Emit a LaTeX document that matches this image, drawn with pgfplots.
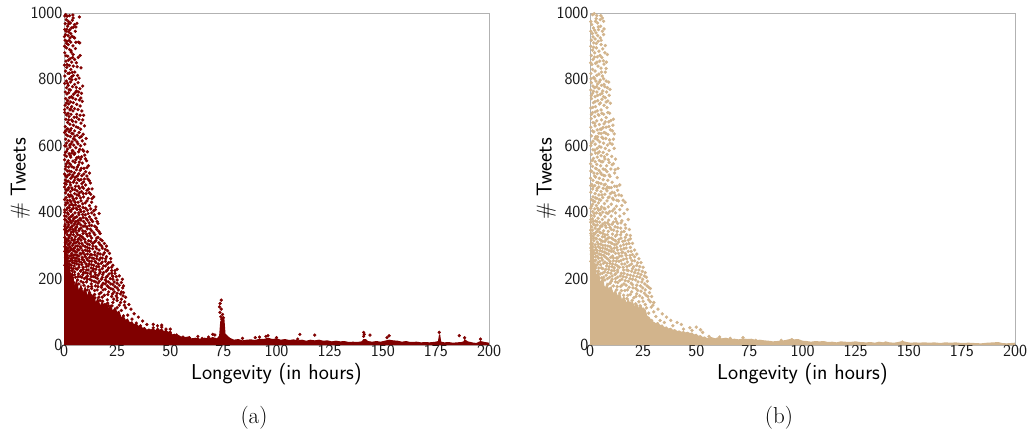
\documentclass[border=0pt]{standalone}
\usepackage{fontspec}
\usepackage{pgfplots}
\pgfplotsset{compat=1.18}
\definecolor{dred}{RGB}{128,0,0}
\definecolor{tanc}{RGB}{210,180,140}
\definecolor{axg}{RGB}{178,178,178}
\pgfplotsset{panel/.style={
  width=425pt,height=332pt,scale only axis,
  xmin=0,xmax=200,ymin=0,ymax=1000,
  xtick={0,25,50,75,100,125,150,175,200},
  ytick={0,200,400,600,800,1000},
  major tick length=0pt,
  axis line style={axg,line width=0.9pt},
  /pgf/number format/assume math mode=true,
  /pgf/number format/1000 sep={},
  tick label style={font=\sffamily\fontsize{17}{17}\selectfont,text=black!90},
  xticklabel style={yshift=3pt},
  yticklabel style={xshift=2pt},
  every axis x label/.style={at={(axis description cs:0.5,-0.088)},anchor=center},
  every axis y label/.style={at={(axis description cs:-0.103,0.5)},rotate=90,anchor=center},
  label style={font=\sffamily\fontsize{21.5}{22}\selectfont},
  xlabel={Longevity (in hours)},ylabel={\# Tweets},
  clip=true,
}}
\begin{document}
\begin{tikzpicture}[x=1pt,y=1pt]
\path[use as bounding box] (0,0) rectangle (1035,432);
\begin{axis}[panel,at={(64pt,87pt)},anchor=south west]
\addplot[fill=dred,draw=none] coordinates {(0,420)(0.6,330)(1,290)(1.6,300)(2,235)(2.6,250)(3,205)(4,225)(5,180)(6,200)(7,165)(8,185)(9,160)(10,180)(11,150)(12,170)(13,145)(14,155)(15,130)(16,145)(17,120)(18,135)(19,118)(20,128)(21,112)(22,122)(23,104)(24,115)(25,100)(26,104)(27,84)(28,90)(29,76)(30,80)(31,68)(32,72)(33,62)(34,66)(35,58)(36,60)(37,52)(38,54)(39,46)(40,50)(41,44)(42,52)(43,44)(44,54)(45,46)(46,50)(47,42)(48,46)(49,40)(50,42)(51,32)(52,34)(53,28)(54,30)(55,26)(57,24)(59,26)(60,20)(62,22)(64,18)(66,22)(68,20)(70,24)(72,20)(73,28)(73.5,70)(74.5,85)(75.5,78)(76,34)(77,28)(78,22)(80,16)(82,18)(84,14)(86,16)(88,17)(90,15)(92,19)(94,18)(96,22)(98,18)(100,20)(102,16)(104,18)(106,15)(108,17)(110,14)(112,16)(114,13)(116,16)(118,14)(120,16)(122,13)(124,14)(126,11)(128,13)(130,11)(132,12)(134,9)(136,10)(138,9)(140,11)(141,18)(142,18)(143,12)(145,10)(147,12)(149,10)(151,13)(153,16)(155,14)(157,13)(159,10)(161,12)(163,9)(166,10)(168,8)(170,9)(172,8)(175,10)(176,12)(176.5,32)(177,32)(177.5,10)(179,8)(181,9)(183,7)(185,8)(187,9)(188,11)(188.5,18)(190,11)(192,8)(194,6)(196,12)(198,9)(200,7)(200,0)(0,0)} \closedcycle;
\addplot[only marks,mark=*,mark size=1.45pt,dred,mark options={draw=none,fill=dred}] coordinates {
(0.8,995)(1.5,990)(2.6,992)(4.2,994)(4.3,985)(7.2,988)(1.1,980)(2,975)(3,970)(0.6,968)(4.9,965)(5.6,958)(1.7,960)(3.5,955)(0.4,950)(1,945)(2.2,943)(3.2,938)(5.3,945)(0.7,935)(1.9,932)(3.8,930)(4.6,927)(5,925)(2.8,925)(0.5,918)(1.4,915)(3.2,912)(5.6,912)(6.8,912)(7.4,910)(2,905)(0.3,900)
(1.2,895)(2.6,890)(3.4,882)(0.4,880)(4.3,875)(7.6,872)(1.8,870)(2.9,862)(5,860)(0.9,855)(3.6,852)(5.8,850)(1.5,845)(2.5,842)(4.4,840)(6.2,838)(8,835)(3.2,830)(0.7,825)(5.1,822)(1.9,818)(0.4,810)(3.6,808)(2.6,802)(5.5,800)(4.4,812)(1.1,795)(3.1,792)(6.6,790)(0.3,788)(5,785)(2,782)(8.8,780)(4,778)(1.2,775)(7.5,772)(3,768)(5.8,765)(0.6,762)(2.2,760)(1.4,756)(4.5,755)(8.2,758)(6.5,752)(3.5,748)(2.6,745)(0.8,742)(5.5,740)(1.8,736)(7.2,738)(8.6,734)(3.1,732)(4.4,730)(2.2,726)(6,725)(0.5,722)(3.6,718)(7.6,720)(1.6,715)(5,712)(2.8,708)(4.2,705)(8.4,705)(0.4,700)(1.9,698)(3.3,695)(6,695)(9.2,692)(2.4,688)(4.8,686)(0.9,680)(7,680)(3.6,678)(5.6,672)(1.7,670)(8,668)(2.8,665)(4.4,662)(9.6,660)(0.6,658)(6.6,655)(3.4,652)(1.4,650)(7.8,650)(5,645)(2.4,642)(0.3,640)(4.2,636)(9,635)(6.2,632)(1.8,630)(3,628)(7.4,625)(10.4,622)(0.8,620)(5.2,618)(2.2,615)(8.6,615)(3.8,612)(1.2,608)(6.6,606)(9.8,605)(4.6,602)(0.4,600)(7.8,600)
(2.8,596)(5.6,594)(1.6,590)(3.9,586)(8.8,588)(6.9,582)(0.7,580)(11,582)(2.4,576)(4.8,574)(9.8,572)(1.2,568)(3.2,566)(6,564)(7.8,560)(0.3,558)(2,555)(4.2,554)(10.6,555)(5.2,550)(8.6,548)(1,545)(3,544)(6.8,542)(11.5,540)(2.2,536)(4.6,534)(9.4,532)(0.6,530)(5.8,528)(7.6,526)(1.6,524)(3.4,522)(10.2,522)(12,518)(0.3,515)(2.6,514)(4.2,512)(6.4,510)(8.4,510)(1.2,506)(5.2,504)(3.2,502)(9.6,500)(11.2,500)(0.6,497)(7.2,496)(2,494)(4.4,490)(6,488)(12.4,488)(8.4,486)(1,484)(3,482)(10.2,482)(5.4,478)(0.3,476)(2.2,474)(7.4,472)(9.2,472)(11.6,470)(13.2,470)(4,468)(1.4,466)(6.2,464)(3,462)(8.2,462)(0.7,458)(5,456)(10.4,456)(12.6,454)(2,452)(7,450)(3.8,448)(9.2,446)(14,446)(1,444)(5.8,442)(11.4,442)(0.3,438)(2.8,436)(4.6,436)(8,434)(6.6,430)(13,430)(1.8,428)(10,428)(3.6,424)(0.7,422)(5.4,422)(12,420)(7.4,418)(15,416)(2.4,414)(9,414)(4.4,412)(1.2,408)(6.2,408)(11,406)(14,404)(3.2,402)(8,402)(0.4,400)(5.2,398)
(13,398)(16.5,396)(2,394)(7,392)(10,392)(1,388)(3.8,388)(6,386)(12,386)(9,384)(15,382)(4.6,380)(0.4,378)(2.6,378)(8,376)(11,376)(5.6,372)(13.5,372)(1.4,370)(3.4,368)(7,368)(10,366)(16,366)(0.6,362)(2.2,362)(4.8,362)(12,360)(9,358)(14.5,358)(6,356)(3.2,354)(1.2,352)(8,352)(11,350)(0.3,348)(4.2,348)(5.4,346)(15.5,348)(2,344)(7,344)(13,344)(10,342)(3.4,340)(0.8,338)(6,338)(17,336)(9,336)(12,336)(1.6,332)(4.4,332)(14.5,332)(7.6,330)(2.6,328)(11,328)(5.4,326)(0.4,324)(16,324)(3.6,322)(9,322)(13,322)(1.2,318)(6.6,318)(8,316)(18,314)(2.2,314)(4.6,314)(11.6,314)(15,314)(10,310)(0.6,308)(3,308)(5.6,308)(7.2,306)(13.5,306)(1.8,302)(17,302)(12,302)(4,300)(9,300)(6.4,298)(20,298)(2.8,296)(15,296)(0.9,294)(11,294)(5,292)(8,292)(18,292)(13.5,290)(3.4,288)(1.6,286)(7,286)(10,286)(16.5,286)(20.5,284)(4.4,284)(12,282)(2.2,280)(6,280)(9,278)(14.5,280)(19,278)(0.8,276)(3.6,276)(17,274)(8,274)(11,274)(5.2,272)(13,272)(1.6,270)(7,268)(15.5,268)(2.8,268)(10,266)(20,266)(4.4,264)(12,264)(18,262)(6,262)(22,260)(14,260)(3.4,260)(8.6,258)(1.2,258)(16.5,256)(11,256)(5.2,254)(19.5,252)(2.4,252)(7.2,252)(13,252)(9.6,250)(21,248)(4,248)(15,248)(0.9,246)(17.5,246)(11.8,244)(6,244)(2.8,242)(8.4,242)(23,240)(14,240)(19.5,238)(4.8,238)(1.5,238)(10.5,236)(16.4,236)(12.8,232)(7,234)(3.4,232)(21,232)(18,230)(5.6,230)(9,228)(15,228)(25,228)(1.8,226)(11.4,226)(13.6,224)(22.5,224)(7.8,222)(3.8,224)(19.8,222)(17,220)(5,220)(10,218)(24,216)(14.6,218)(2.2,218)(12.4,214)(6.8,214)(21.2,214)(8.8,212)(18.2,212)(16,210)(4,210)(26,208)(23,206)(11,208)(13.8,206)(2.8,206)(7.6,206)(19.8,204)(5.4,204)(9.6,200)(15.8,200)(21.8,200)(17.6,198)(12.2,198)(25,196)(3.4,198)(6.4,196)(14.2,192)(20,192)(8,192)(23.6,190)(27,188)(10.6,190)(18.4,186)(4.6,188)(16,186)(22,184)(12.8,184)(7,184)(26,180)(20.4,178)(9.4,180)(14.8,178)(24,176)(5.4,176)(11.4,176)(17.6,174)(27.6,172)(22,170)(8,170)(19.4,168)(13,170)(25.6,166)(15.6,166)(10,164)(6.4,164)(23.6,160)(21,160)(28,158)(17.4,158)(12,158)(26.6,154)(14.4,152)(19,150)(8.6,150)(24.6,148)(22.4,146)(29,144)(16.4,144)(11.2,144)(27,138)(20.4,136)(25,134)(13.4,136)(18.2,132)(28.6,130)(23,128)(30.5,122)(26,120)(21,118)(16,124)(29,112)(31.5,108)(27,104)(24,106)(33,94)(30,90)(35,84)(28,88)(32,78)(37,72)(34,66)(39,62)(36,58)(42,52)(44,58)(46,54)(41,44)(48,48)(38,46)(50,38)(44,42)(53,30)(56,24)(59,22)(63,18)(68,24)(71,30)(65,20)
(73.5,125)(74,135)(73.2,115)(74,108)(73.4,98)(74.6,92)(73.8,85)(74.2,78)(75,82)(84,20)(92,24)(95,26)(96,28)(111,32)(118,30)(141,38)(141.3,32)(141,26)(144,30)(153,28)(152,22)(176.6,38)(186,28)(188.5,22)(196,18)(110,18)(100,22)(90,22)(70,32)(63,26)(50,48)(46,60)(42,62)
(2.2,967)(0.4,991)(3.9,978)(6.1,969)(1.3,951)(2.7,949)(4.4,957)(0.2,929)(1.1,909)(2.4,917)(4.2,901)(3.2,887)(5.4,893)(0.9,871)(2.1,858)(4.1,866)(6.7,866)(1.3,836)(3.9,821)(2.6,819)(0.2,843)(6.4,812)(7.1,804)(1.7,788)(3.7,799)(5.8,776)(4.2,744)(6.9,762)(1.1,729)(5.3,760)(2.4,769)(7.9,744)(0.3,709)(3.1,711)(6.6,709)(5.9,686)(1.2,693)(4.1,674)(2.2,678)(7.6,692)(8.8,678)(1.8,651)(5.7,657)(3.7,638)(0.7,644)(2.9,647)(7.1,640)(5.1,629)(1.1,633)(8.2,628)(4.4,621)(2.7,602)(6.1,612)(0.9,599)(3.3,606)
(4.2,584)(1.2,583)(7.4,589)(5.1,578)(9.3,584)(2.9,571)(0.4,572)(6.8,566)(3.7,578)(8.3,567)(10.1,561)(1.7,551)(5.6,558)(7.2,551)(2.7,546)(3.7,537)(0.9,538)(6.3,536)(8.1,532)(10.8,534)(1.8,511)(4.9,519)(7,516)(9.3,515)(2.4,524)(5.8,507)(3.9,507)(0.7,510)(8,498)(6.6,499)(10.8,509)(1.4,493)(2.9,489)(4.9,496)(9.2,491)(11.9,495)(0.4,487)(6.8,478)(3.7,473)(1.9,468)(8.6,476)(5.2,468)(10.8,466)(7.2,458)(2.6,447)(0.9,468)(4.3,441)(3.2,452)(6.1,452)(9.1,456)(11.9,459)(1.6,435)(7.8,443)(13.2,441)(3.3,431)(5.2,430)(0.9,428)(10.8,434)(8.8,425)(6.8,418)(2.7,421)(4.4,420)(1.6,413)(12.6,410)(3.7,409)(5.8,412)(10.2,412)(7.6,408)(0.3,407)(14.8,408)(2.8,405)(9.4,402)
(4.1,392)(6.9,398)(1.6,398)(11.4,396)(8.8,393)(3.1,386)(0.3,389)(14.2,392)(5.2,384)(2.2,382)(7.6,381)(10.4,381)(12.8,378)(4.2,374)(6.6,375)(9.2,372)(1,376)(3,374)(15.6,372)(11.8,368)(2.1,369)(5.1,367)(7.9,362)(13,360)(0.4,358)(3.9,358)(9.9,358)(6.4,364)(1.9,356)(15.2,354)(5.4,352)(10.8,356)(7.2,349)(2.8,348)(12.4,349)(8.8,344)(4.4,341)(0.9,345)(14,338)(16.4,342)(6.4,332)(1.4,342)(10.6,334)(3.1,333)(8.4,326)(12.4,328)(5,318)(0.9,318)(15.4,322)(7.2,322)(2.2,322)(9.8,318)(17.2,318)(3.7,316)(12.6,312)(14.4,310)(6.4,312)(8.4,306)(4.6,306)(1.2,310)(2.4,304)(11,304)(16.4,308)(19,306)(0.4,296)(5.6,298)(7.6,296)(3.2,292)(10,296)(13.6,298)(1.9,292)(15.4,290)(12,291)(17.8,298)(4.4,290)(6.4,288)(8.8,284)(2.8,284)(11,284)(19.4,288)(14.4,272)(0.4,282)(1.2,280)(5.2,282)(3.4,270)(7.6,276)(9.8,272)(12.4,272)(16,276)(18.4,272)(21.4,276)(2,262)(4.4,270)(6.2,270)(8.6,264)(10.8,260)(13.2,262)(15.4,260)(0.7,264)(3,254)(5.2,262)(7,258)(9.2,256)(17.2,262)(19.6,260)(12,252)(14.6,252)(1.4,250)(4,254)(18,250)(6,252)(22,250)(8.2,248)(20.4,244)(10.4,244)(16.2,244)(13,242)(2.2,244)(5,246)(0.4,240)(3.4,240)(18.6,238)(7,242)(11.4,238)(15.4,236)(22.4,234)(9,234)(4.4,230)(13.8,230)(1,230)(6.2,228)(20.4,226)(16.8,226)(2.6,224)(24,224)(10.6,226)(8,224)(12.6,220)(18.6,218)(14.8,212)(5,212)(9.2,218)(22.4,216)(3,214)(11,216)(0.8,218)(6.6,206)(16.8,216)(20.4,208)(24.6,206)(1.6,208)(8.4,204)(12.8,206)(4,202)(14.8,204)(10.4,204)(18,204)(22.8,208)(19.4,196)(16.6,192)(23,198)(13,194)(27.5,198)(11,198)(21,190)(9,188)(17.8,180)(15,190)(25,186)(28,178)(23,182)(19.4,184)(13,176)(21,174)(16,176)(25,172)(11,166)(18.4,166)(14.4,164)(23,168)(20.6,152)(27,160)(25,156)(16.6,154)(12.8,150)(22.8,154)(18,144)(20.6,126)(25,142)(27.8,148)(14.6,142)(23.4,138)(17,134)(26.6,128)(19.2,122)(22.6,118)(28.4,120)(25,112)
};
\end{axis}
\begin{axis}[panel,at={(590pt,87pt)},anchor=south west]
\addplot[fill=tanc,draw=none] coordinates {(0,430)(0.6,340)(1,300)(1.6,310)(2,245)(2.6,255)(3,210)(4,230)(5,190)(6,205)(7,172)(8,190)(9,165)(10,180)(11,155)(12,170)(13,148)(14,160)(15,138)(16,150)(17,128)(18,140)(19,125)(20,132)(21,118)(22,128)(23,112)(24,122)(25,106)(26,110)(27,88)(28,84)(29,74)(30,70)(31,66)(32,70)(33,60)(34,62)(35,54)(36,56)(37,50)(38,52)(39,46)(40,48)(41,42)(42,44)(43,40)(44,42)(45,38)(46,40)(47,36)(48,38)(49,32)(50,34)(51,28)(52,30)(53,24)(54,26)(55,21)(57,24)(59,20)(60,23)(62,20)(64,22)(66,18)(68,19)(70,17)(72,20)(74,18)(76,19)(78,15)(80,16)(82,14)(84,13)(86,11)(88,12)(90,13)(92,15)(94,18)(95,20)(96,17)(98,18)(100,13)(102,12)(104,10)(106,12)(108,11)(110,12)(112,9)(114,10)(116,8)(118,11)(120,10)(122,9)(125,11)(127,9)(130,8)(132,9)(134,7)(136,10)(138,8)(139,11)(141,8)(143,7)(145,9)(147,12)(149,9)(151,7)(153,8)(155,7)(157,8)(160,7)(162,8)(165,6)(167,8)(170,7)(172,8)(175,6)(178,7)(181,6)(184,5)(187,7)(190,8)(192,9)(194,6)(196,5)(198,6)(200,7)(200,0)(0,0)} \closedcycle;
\addplot[only marks,mark=*,mark size=1.5pt,tanc,mark options={draw=none,fill=tanc}] coordinates {
(1.2,995)(2,998)(3.2,992)(5.8,985)(4.8,980)(6.4,975)(2.6,975)(3.6,970)(0.8,965)(5,960)(1.6,955)(4,950)(0.4,945)(5.8,945)(2.8,940)(3.6,932)(6.4,935)(1.4,928)(4.8,925)(2.4,922)(0.6,918)(3.8,915)(1.8,910)(5.2,905)(0.4,900)(3,895)(6,892)(1.2,888)(4.2,885)(2.2,880)(7,880)(8.2,875)(0.6,872)(3.4,868)(5.6,866)(1.4,860)(4.6,855)(0.3,850)(2.6,848)(6.6,846)(3.8,840)(5.2,834)(1.2,830)(2.4,825)(7.2,822)(0.4,818)(4.2,816)(3.2,812)(5.8,810)(1.8,806)(6.4,802)(4.8,798)(2.8,795)(0.6,790)(7.6,795)(8.8,792)(3.6,786)(5.4,782)(1.4,780)(7,778)(2.2,775)(4.2,772)(8.2,775)(0.4,768)(6,765)(3.2,762)(1.2,758)(9,752)(4.8,755)(2.4,748)(7.2,745)(0.7,742)(5.6,740)(3.6,736)(8.4,735)(1.6,730)(9.6,728)(4.4,726)(6.6,722)(2.6,718)(0.4,714)(8,715)(5.2,708)(3.4,705)(1.2,700)(9.2,698)(6.4,695)(4.2,692)(2.2,688)(7.6,685)(0.6,682)(5.4,678)(11,680)(3.2,675)(8.8,672)(1.4,670)(6.6,666)(4.4,664)(2.4,660)(10.8,662)(0.4,656)(7.6,656)(5.4,650)(3.4,648)(9.6,648)(1.8,642)(6.6,640)(4.2,638)(8.4,634)(11.4,636)(0.7,630)(2.8,628)(5.6,626)(7.4,622)(3.6,618)(9.2,618)(1.4,614)(4.6,612)(6.4,608)(2.4,605)(10.4,605)(8.2,602)(0.4,600)
(5.2,596)(3.4,592)(7.2,592)(11.4,592)(1.4,588)(9,586)(4.4,582)(6.2,580)(2.6,578)(0.7,574)(8,574)(5.2,570)(3.4,566)(10.2,568)(1.6,562)(12,560)(7,560)(4.4,556)(2.4,552)(6,552)(9,550)(0.3,546)(11,546)(3.2,544)(5,540)(7.8,540)(1.2,538)(2.6,532)(13.2,532)(9.8,530)(6.2,530)(4.2,526)(0.7,524)(8,522)(1.8,518)(3.4,516)(11.6,518)(5.4,514)(7,510)(2.6,506)(9.4,508)(0.3,502)(4.4,502)(12.8,504)(6.2,498)(1.4,496)(8.4,496)(3.2,490)(10.4,490)(5.2,486)(0.8,484)(7.2,484)(14,482)(2.2,480)(4.2,476)(11.6,478)(9,474)(6.2,472)(1.2,470)(3.2,466)(13,466)(8,464)(5.2,462)(0.4,460)(10.4,460)(2.4,456)(7,454)(4.2,452)(14.8,450)(12,450)(1.4,446)(9,446)(6,444)(3.2,442)(0.7,438)(5,436)(11,438)(8,434)(13.4,434)(2.2,432)(16.5,430)(4,428)(6.8,426)(1.2,424)(10,424)(3,420)(15,420)(12.4,418)(8.6,416)(5.4,416)(0.4,412)(2.2,410)(7,410)(17.6,408)(4,406)(14,408)(10.6,404)(1.2,402)(6,400)(12,398)
(3,398)(8.4,396)(16,396)(5,392)(0.6,390)(2,388)(10,388)(14,388)(7,386)(3.8,382)(12,380)(1.2,380)(18,378)(5.8,378)(8.8,376)(2.6,374)(15,374)(0.4,370)(4.6,370)(11,370)(7,368)(13,366)(1.6,364)(3.4,362)(9,362)(16.5,362)(5.6,358)(0.8,356)(11.8,356)(7.6,354)(2.4,352)(14.5,352)(4.4,350)(18.5,348)(10,348)(1.2,346)(6.4,344)(3.2,342)(8.6,342)(12.8,342)(16,342)(5,338)(0.4,336)(2.2,334)(10.6,334)(7,332)(14.4,332)(3.8,330)(19,330)(12,328)(1.4,328)(5.8,326)(9,324)(16.6,324)(2.8,322)(0.7,320)(7.6,318)(4.6,318)(11,318)(13.6,318)(18,316)(1.8,314)(6,312)(15.4,312)(3.4,310)(8.8,310)(10.4,306)(0.4,304)(20,306)(5,304)(12.6,304)(17.2,304)(2.4,302)(7.2,300)(14.4,298)(4,296)(9.4,296)(1.2,296)(19,294)(11.4,292)(6,292)(16,290)(2.8,288)(8,288)(21,286)(13,286)(4.8,284)(0.6,284)(10,282)(18,282)(6.8,280)(15,278)(3.2,278)(12,276)(1.6,274)(22,274)(8.8,274)(20,272)(5.2,272)(17,270)(14,268)(10.6,268)(2.6,266)(7,266)(12.4,262)(4,262)(19,262)(0.9,260)(23,260)(15.8,258)(8.6,258)(5.8,256)(21,254)(2.2,254)(11,254)(13.6,252)(17.6,250)(7,250)(3.8,248)(24,248)(9.4,246)(19.6,244)(1.2,244)(15,244)(5,242)(12,242)(22,240)(7.8,238)(2.8,238)(17.4,236)(10.4,236)(25,234)(13.8,234)(4.2,232)(20,230)(6,230)(8.8,228)(15.8,226)(23,226)(1.6,226)(11.4,224)(18,224)(3.4,222)(13,220)(6.8,220)(26,218)(21,218)(9.8,216)(16,216)(4.8,214)(1.8,214)(24,212)(11.8,212)(19,210)(7.6,210)(14.2,208)(3,206)(22,206)(26.5,204)(9.2,204)(17,204)(5.4,202)(12,200)(20,198)(24.8,198)(15,198)(7,196)(27,192)(10,192)(18,192)(3.6,192)(22.6,190)(13,188)(5.8,186)(16,184)(25.8,184)(20,182)(8.4,182)(11,178)(23.8,178)(14.4,176)(18.4,174)(27.6,174)(6.4,174)(21.6,170)(9.4,170)(26,166)(12.6,166)(16.4,164)(24,162)(19.6,160)(8,160)(28,158)(14,156)(22,154)(10.8,154)(26.4,150)(17.8,150)(29,146)(24.6,142)(20.6,142)(13,144)(27.6,136)(16,134)(23,130)(30,128)(26,122)(19,126)(28.8,114)(32,108)(25,108)(30,100)(34,94)(27.6,96)(36,84)(31,86)(33,74)(29,74)(38,74)(35,68)(41,68)(43,62)(39,58)(44,48)(47,52)(50,54)(52,46)(48,44)(53,38)(56,26)(61,24)(66,20)(72,22)(78,14)(90,14)(95,16)(147,9)
(2.9,983)(0.4,974)(5.1,992)(3.9,958)(2.2,948)(6.6,952)(1.1,938)(5.2,918)(3,908)(1.7,897)(7.2,902)(4.7,872)(6.3,856)(2.1,867)(0.9,845)(3.3,852)(7.7,852)(5.4,822)(2.2,802)(7.6,833)(0.5,802)(3.1,778)(4.4,792)(6.6,785)(1.6,764)(5.6,758)(7.8,762)(3.6,752)(0.6,751)(6.4,748)(2.4,733)(9.4,770)(4.9,729)(7.6,732)(1.3,716)(3.9,694)(5.6,698)(8.4,700)(2.4,702)(0.7,695)(7.2,672)(9.8,676)(4.8,650)(2.2,668)(6.2,655)(1.2,645)(3.6,627)(8.9,658)(5.2,637)(10.6,645)(7.4,638)(0.6,608)(2.4,622)(4.4,598)(6.2,622)(9.4,608)(11,620)
(2.2,587)(6.8,567)(1,556)(3.7,578)(8.6,558)(5.2,552)(3,531)(10.4,543)(7.2,528)(0.4,524)(5,519)(9,512)(2.2,509)(6.4,511)(11.8,528)(4,488)(8.2,476)(1.6,478)(6.6,482)(10,474)(3.4,472)(12.6,478)(0.4,480)(5.6,452)(2.6,443)(7.6,470)(9.6,456)(4.4,438)(1.6,434)(11.4,458)(13.6,452)(6.6,412)(8.6,444)(3.6,412)(10.6,442)(0.7,418)(5,409)(12.6,436)(15.6,436)(2,396)(9.2,402)(11.4,410)(7.6,398)(4.6,396)
(3.2,372)(0.4,378)(6,364)(1.6,372)(8.2,368)(10.4,364)(12.4,372)(14.6,368)(5,358)(2.6,360)(9.4,354)(7.2,360)(0.4,346)(3.8,348)(13,354)(16.8,352)(11.2,346)(6,336)(8.2,332)(2.6,338)(4.6,340)(14.8,340)(1.6,336)(10.2,322)(12.6,332)(0.6,330)(17.2,332)(3,320)(6.8,326)(5.4,314)(8.2,320)(14.6,322)(1.8,322)(12,314)(16.4,314)(3.8,304)(9.8,308)(7,312)(1,306)(19,320)(6,300)(13.4,310)(15.8,302)(2.6,294)(8.4,298)(11.6,302)(18.4,306)(4.8,292)(0.4,292)(10.2,290)(14.6,288)(7.2,290)(12.6,294)(17,292)(1.8,284)(3.4,284)(5.8,282)(9,284)(19.4,282)(15.4,280)(11,282)(13.4,276)(0.6,274)(7.8,276)(2.4,276)(4.4,274)(6.4,270)(16.6,276)(18.8,270)(9.8,264)(21,266)(1.4,264)(3.4,268)(13,262)(5.4,262)(15,268)(11,262)(17.2,260)(7.8,262)(0.4,252)(2.8,256)(9.4,252)(19.8,254)(4.6,252)(12.4,252)(6.4,246)(14.6,254)(22.4,248)(16.4,244)(10.6,244)(1.4,252)(18.6,240)(3.4,242)(8,246)(13,238)(5.4,232)(20.6,236)(0.8,234)(11.4,232)(15.6,234)(9,236)(2.6,232)(7.4,228)(17.4,226)(23.4,236)(19.6,222)(13,226)(4,222)(10.2,224)(21.6,226)(14.8,216)(5.8,216)(1,216)(8.4,218)(12,214)(2.6,208)(24.6,222)(17.6,212)(22.6,216)(6.4,204)(10.4,208)(20.4,208)(15.6,206)(13,204)(4,200)(8.2,200)(18.8,200)(23.4,204)(10.4,198)(16.6,194)(1,204)(14,194)(25.6,208)(21.4,196)(6,194)(12,190)(19.4,186)(17,180)(24.4,190)(9.4,186)(15,180)(22,180)(26.8,178)(12.8,176)(20.2,172)(10,162)(17.6,166)(24.8,172)(14.8,164)(28.4,170)(22.4,164)(19,152)(12,152)(25.6,156)(15.8,150)(21.6,146)(23.4,148)(27.2,146)(17.4,140)(19.8,134)(14.4,132)(25,132)(28.4,130)(21.4,124)(23.6,118)(26.6,112)(29.6,120)
};
\end{axis}
\node[font=\fontsize{23}{23}\selectfont] at (254,14) {(a)};
\node[font=\fontsize{23}{23}\selectfont] at (779,14) {(b)};
\end{tikzpicture}
\end{document}
